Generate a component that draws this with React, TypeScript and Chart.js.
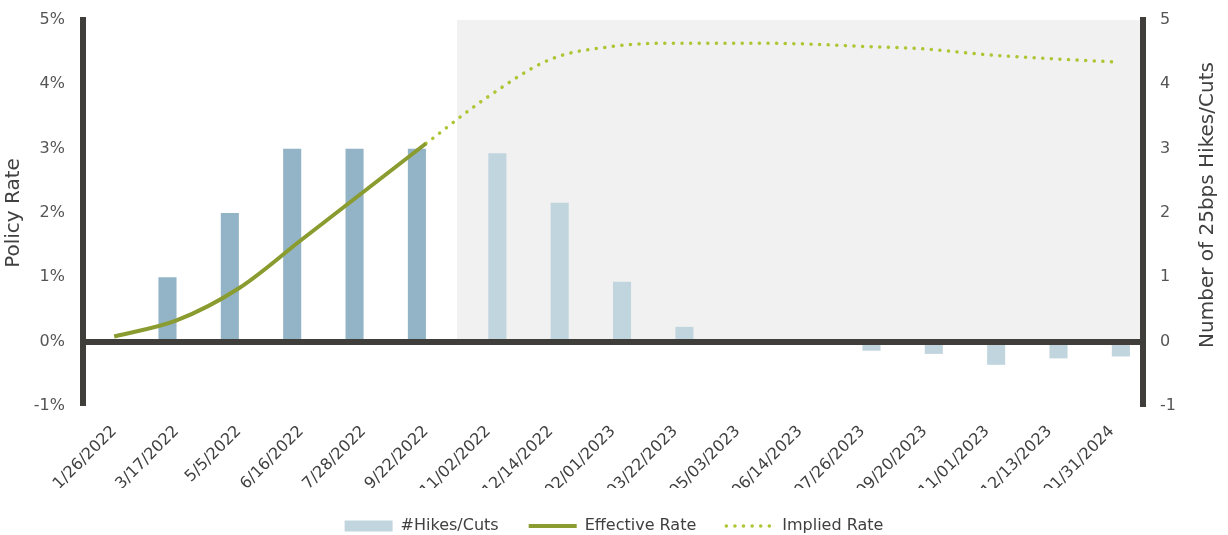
import React, { useEffect, useRef } from 'react';
import { Chart, registerables } from 'chart.js';

Chart.register(...registerables);

const categories = [
  '1/26/2022', '3/17/2022', '5/5/2022', '6/16/2022', '7/28/2022', '9/22/2022',
  '11/02/2022', '12/14/2022', '02/01/2023', '03/22/2023', '05/03/2023', '06/14/2023',
  '07/26/2023', '09/20/2023', '11/01/2023', '12/13/2023', '01/31/2024',
];
const forecastStartIndex = 6;
const hikesRealized = [null, 1, 2, 3, 3, 3, null, null, null, null, null, null, null, null, null, null, null];
const hikesImplied = [null, null, null, null, null, null, 2.93, 2.16, 0.93, 0.23, 0, 0, -0.14, -0.19, -0.36, -0.26, -0.23];
const effectiveRate = [0.08, 0.33, 0.83, 1.58, 2.33, 3.08, null, null, null, null, null, null, null, null, null, null, null];
const impliedRate = [null, null, null, null, null, 3.08, 3.81, 4.39, 4.59, 4.64, 4.64, 4.63, 4.59, 4.55, 4.46, 4.4, 4.35];
const rateTicks = [-1, 0, 1, 2, 3, 4, 5];
const countTicks = [-1, 0, 1, 2, 3, 4, 5];
const leftTitle = 'Policy Rate';
const rightTitle = 'Number of 25bps Hikes/Cuts';

const FONT = 'DejaVu Sans';
const AXIS = '#403e3a';
const TEXT = '#404040';
const TICK = '#555555';

const shadePlugin = {
  id: 'forecastShade',
  beforeDatasetsDraw(chart: any) {
    const { ctx, chartArea, scales } = chart;
    const x = scales.x;
    const y = scales.y;
    const left = (x.getPixelForValue(forecastStartIndex - 1) + x.getPixelForValue(forecastStartIndex)) / 2;
    const bottom = y.getPixelForValue(0);
    ctx.save();
    ctx.fillStyle = '#f1f1f1';
    ctx.fillRect(left, chartArea.top, chartArea.right - left, bottom - chartArea.top);
    ctx.restore();
  },
};

const rightTitlePlugin = {
  id: 'rightTitle',
  afterDraw(chart: any) {
    const { ctx, chartArea } = chart;
    ctx.save();
    ctx.font = `20px "${FONT}"`;
    ctx.fillStyle = TEXT;
    ctx.textAlign = 'center';
    ctx.textBaseline = 'middle';
    ctx.translate(chart.width - 20, (chartArea.top + chartArea.bottom) / 2 - 8);
    ctx.rotate(-Math.PI / 2);
    ctx.fillText(rightTitle, 0, 0);
    ctx.restore();
  },
};

export default function App() {
  const ref = useRef<HTMLCanvasElement>(null);
  useEffect(() => {
    document.body.style.margin = '0';
    const chart = new Chart(ref.current as HTMLCanvasElement, {
      type: 'bar',
      data: {
        labels: categories,
        datasets: [
          {
            type: 'bar', label: 'Realized', data: hikesRealized as any, backgroundColor: '#93b4c6',
            yAxisID: 'y1', categoryPercentage: 0.58, barPercentage: 1, order: 2,
          },
          {
            type: 'bar', label: '#Hikes/Cuts', data: hikesImplied as any, backgroundColor: '#c1d5df',
            yAxisID: 'y1', categoryPercentage: 0.58, barPercentage: 1, order: 2,
          },
          {
            type: 'line', label: 'Effective Rate', data: effectiveRate as any, borderColor: '#8a9b2f',
            backgroundColor: '#8a9b2f', borderWidth: 4, pointRadius: 0, tension: 0.4,
            cubicInterpolationMode: 'monotone', yAxisID: 'y', order: 1,
          },
          {
            type: 'line', label: 'Implied Rate', data: impliedRate as any, borderColor: '#b0c434',
            backgroundColor: '#b0c434', borderWidth: 3.5, borderDash: [0.1, 8.5], borderCapStyle: 'round',
            pointRadius: 0, tension: 0.4, cubicInterpolationMode: 'monotone', yAxisID: 'y', order: 1,
          },
        ] as any,
      },
      options: {
        responsive: false,
        animation: false,
        layout: { padding: { top: 20, bottom: -9, left: 0, right: 0 } },
        plugins: {
          tooltip: { enabled: false },
          legend: {
            position: 'bottom',
            labels: {
              usePointStyle: true,
              pointStyleWidth: 48,
              boxHeight: 11,
              padding: 30,
              color: TEXT,
              font: { family: FONT, size: 16 },
              generateLabels(chart: any) {
                const items = (Chart.defaults.plugins.legend.labels as any).generateLabels(chart);
                return items
                  .filter((i: any) => i.datasetIndex !== 0)
                  .sort((a: any, b: any) => a.datasetIndex - b.datasetIndex)
                  .map((i: any) => {
                    const ds = chart.data.datasets[i.datasetIndex];
                    if (i.datasetIndex === 1) return { ...i, pointStyle: 'rect', lineWidth: 0 };
                    return {
                      ...i,
                      pointStyle: 'line',
                      strokeStyle: ds.borderColor,
                      lineWidth: ds.borderWidth,
                      lineDash: ds.borderDash || [],
                      lineCap: ds.borderCapStyle || 'butt',
                    };
                  });
              },
            },
          },
        },
        scales: {
          x: {
            grid: { display: false },
            border: { display: false },
            ticks: {
              autoSkip: false, minRotation: 45, maxRotation: 45, padding: 8,
              color: TEXT, font: { family: FONT, size: 16 },
            },
            afterFit: (s: any) => { s.height = 82; },
          },
          y: {
            position: 'left', min: -1, max: 5,
            afterBuildTicks: (s: any) => { s.ticks = rateTicks.map((v) => ({ value: v })); },
            ticks: { callback: (v: any) => `${v}%`, padding: 18, color: TICK, font: { family: FONT, size: 16 } },
            grid: {
              drawTicks: false, z: 1,
              color: (c: any) => (c.tick && c.tick.value === 0 ? AXIS : 'rgba(0,0,0,0)'),
              lineWidth: (c: any) => (c.tick && c.tick.value === 0 ? 6 : 0),
            },
            border: { display: true, color: AXIS, width: 6, z: 1 },
            title: { display: true, text: leftTitle, color: TEXT, font: { family: FONT, size: 20 }, padding: { top: 2, bottom: 0 } },
            afterFit: (s: any) => { s.width = 83; s.paddingTop = 0; s.paddingBottom = 0; },
          },
          y1: {
            position: 'right', min: -1, max: 5,
            afterBuildTicks: (s: any) => { s.ticks = countTicks.map((v) => ({ value: v })); },
            ticks: { padding: 17, color: TICK, font: { family: FONT, size: 16 } },
            grid: { display: false, drawTicks: false },
            border: { display: true, color: AXIS, width: 6, z: 1 },
            afterFit: (s: any) => { s.width = 85; s.paddingTop = 0; s.paddingBottom = 0; },
          },
        },
      } as any,
      plugins: [shadePlugin, rightTitlePlugin],
    });
    return () => chart.destroy();
  }, []);
  return (
    <div style={{ width: '1228px', height: '535px' }}>
      <canvas ref={ref} width={1228} height={535} style={{ display: 'block' }} />
    </div>
  );
}
